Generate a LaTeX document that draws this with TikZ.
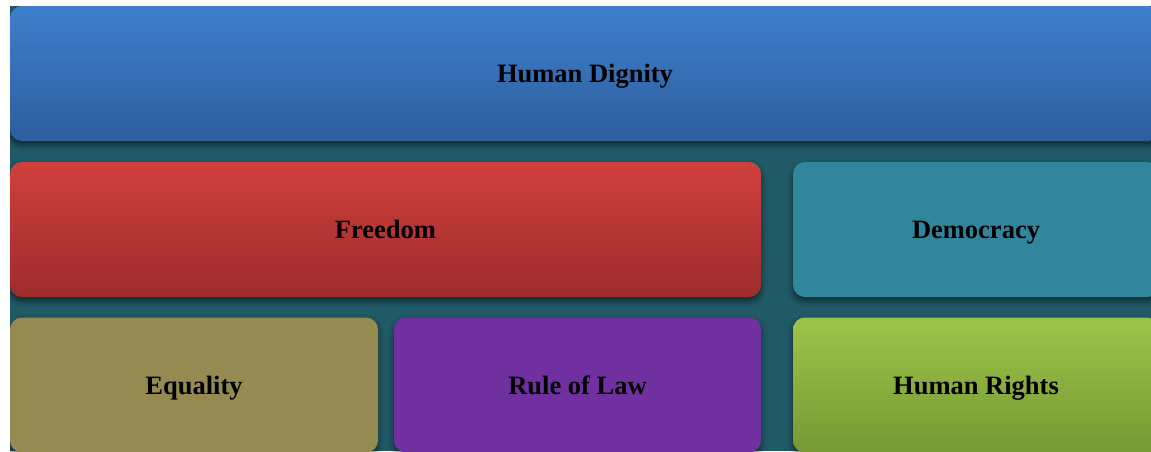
\documentclass[tikz,border=0pt]{standalone}
\usepackage{fontspec}
\setmainfont{Liberation Serif}
\usetikzlibrary{shadows.blur}
\definecolor{bgteal}{HTML}{205A67}
\definecolor{blueT}{HTML}{3E7FCD}
\definecolor{blueB}{HTML}{2D5E9D}
\definecolor{redT}{HTML}{D0403D}
\definecolor{redB}{HTML}{9E2B2B}
\definecolor{demo}{HTML}{31869C}
\definecolor{equal}{HTML}{958A52}
\definecolor{rule}{HTML}{7030A0}
\definecolor{greenT}{HTML}{9DC44A}
\definecolor{greenB}{HTML}{769933}
\tikzset{
  tile/.style={rounded corners=12pt, inner sep=0pt, text=black,
    font=\fontsize{26.5}{30}\selectfont\bfseries,
    text height=18pt, text depth=0pt,
    blur shadow={shadow xshift=0pt, shadow yshift=-4pt, shadow blur radius=6pt, shadow opacity=55}},
  wide/.style={minimum height=135pt}
}
\begin{document}
\begin{tikzpicture}[x=1pt,y=-1pt]
\useasboundingbox (0,0) rectangle (1151,451);
\fill[white] (0,0) rectangle (1151,451);
\begin{scope}
\clip (10,6) rectangle (1151,451);
\fill[bgteal] (10,6) rectangle (1151,451);
\node[tile, wide, top color=blueT, bottom color=blueB, minimum width=1150pt] (dignity) at (585,73.5) {Human Dignity};
\node[tile, wide, top color=redT, bottom color=redB, minimum width=751pt] (freedom) at (385.5,229.5) {Freedom};
\node[tile, wide, fill=demo, minimum width=366pt] (democracy) at (976,229.5) {Democracy};
\node[tile, wide, fill=equal, minimum width=368pt] (equality) at (194,385) {Equality};
\node[tile, wide, fill=rule, minimum width=367pt] (law) at (577.5,385) {Rule of Law};
\node[tile, wide, top color=greenT, bottom color=greenB, minimum width=366pt] (rights) at (976,385) {Human Rights};
\end{scope}
\end{tikzpicture}
\end{document}
